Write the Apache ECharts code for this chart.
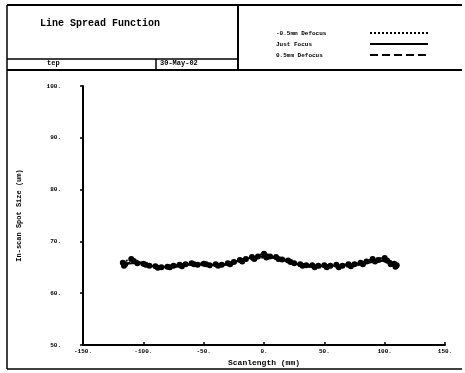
<!DOCTYPE html>
<html><head><meta charset="utf-8">
<script src="https://cdn.jsdelivr.net/npm/echarts@6/dist/echarts.min.js"></script>
<style>html,body{margin:0;padding:0;background:#fff}#c{width:465px;height:373px}</style>
</head><body><div id="c"></div>
<script>
var seriesNames = ['-0.5mm Defocus', 'Just Focus', '0.5mm Defocus'];
var xTickLabels = ['-150.', '-100.', '-50.', '0.', '50.', '100.', '150.'];
var yTickLabels = ['50.', '60.', '70.', '80.', '90.', '100.'];

var minusX = [-117,-110,-100,-90,-80,-70,-60,-50,-40,-30,-20,-10,0,10,20,30,40,50,60,70,80,90,100,108];
var minusY = [65.9,66.6,65.7,65.2,65.1,65.5,65.8,65.7,65.6,65.8,66.4,67.0,67.6,67.0,66.3,65.6,65.4,65.4,65.5,65.6,65.9,66.6,66.8,65.7];
var justX = [-115,-105,-95,-85,-75,-65,-55,-45,-35,-25,-15,-5,5,15,25,35,45,55,65,75,85,95,105,109];
var justY = [65.6,65.8,65.3,65.0,65.3,65.6,65.5,65.4,65.5,66.0,66.6,67.1,67.1,66.5,65.8,65.4,65.3,65.3,65.3,65.6,66.1,66.4,65.6,65.1];
var plusX = [-116,-108,-98,-88,-78,-68,-58,-48,-38,-28,-18,-8,2,12,22,32,42,52,62,72,82,92,102,110];
var plusY = [65.3,66.2,65.5,64.9,65.0,65.2,65.6,65.6,65.3,65.6,66.1,66.6,66.9,66.6,66.0,65.3,65.0,65.0,65.0,65.2,65.6,66.1,66.3,65.4];

function zip(xs, ys){ return xs.map(function(x,i){ return [x, ys[i]]; }); }

var FONT = 'Liberation Mono';
var chart = echarts.init(document.getElementById('c'), null, {renderer:'canvas'});
function ln(x1,y1,x2,y2,w){ return {type:'line', shape:{x1:x1,y1:y1,x2:x2,y2:y2}, style:{stroke:'#000', lineWidth:w||1.5}, silent:true}; }
var mkSeries = function(name, data, type){
  return {name:name, type:'line', data:data, smooth:0.3, symbol:'circle', symbolSize:6,
    itemStyle:{color:'#000'}, lineStyle:{color:'#000', width:1.8, type:type}};
};
chart.setOption({
  animation:false,
  backgroundColor:'#fff',
  grid:{left:83, right:20, top:86, bottom:28},
  xAxis:{type:'value', min:-150, max:150, interval:50,
    name:'Scanlength (mm)', nameLocation:'middle', nameGap:9,
    nameTextStyle:{fontFamily:FONT, fontSize:8, fontWeight:'bold', color:'#000'},
    axisLine:{onZero:false, lineStyle:{color:'#000', width:2}},
    axisTick:{inside:true, length:3, lineStyle:{color:'#000', width:1.5}},
    axisLabel:{margin:3, fontFamily:FONT, fontSize:6, fontWeight:'bold', color:'#000',
      formatter:function(v){ return xTickLabels[Math.round((v+150)/50)]; }},
    splitLine:{show:false}},
  yAxis:{type:'value', min:50, max:100, interval:10,
    name:'In-scan Spot Size (um)', nameLocation:'middle', nameGap:60, nameRotate:90,
    nameTextStyle:{fontFamily:FONT, fontSize:7, fontWeight:'bold', color:'#000'},
    axisLine:{show:true, onZero:false, lineStyle:{color:'#000', width:2}},
    axisTick:{show:true, length:3, lineStyle:{color:'#000', width:1.5}},
    axisLabel:{margin:22, fontFamily:FONT, fontSize:6, fontWeight:'bold', color:'#000',
      formatter:function(v){ return yTickLabels[Math.round((v-50)/10)]; }},
    splitLine:{show:false}},
  legend:{orient:'vertical', left:271, top:25, itemGap:5, itemWidth:58, itemHeight:6, align:'right',
    data:seriesNames,
    itemStyle:{opacity:0},
    formatter:function(n){ return '{a|' + n + '}'; },
    textStyle:{fontFamily:FONT, fontSize:6, fontWeight:'bold', color:'#000',
      rich:{a:{width:89, align:'left', fontFamily:FONT, fontSize:6, fontWeight:'bold', color:'#000'}}}},
  graphic:[
    ln(7,5,462,5,2), ln(7,5,7,369,1.5), ln(238,5,238,70,2), ln(7,59,238,59,1.5),
    ln(7,70,462,70,2), ln(156,59,156,70,1.5), ln(7,369,462,369,1.5),
    {type:'text', left:40, top:18, silent:true, style:{text:'Line Spread Function', font:'bold 10px "Liberation Mono"', fill:'#000'}},
    {type:'text', left:47, top:60, silent:true, style:{text:'tep', font:'bold 7px "Liberation Mono"', fill:'#000'}},
    {type:'text', left:160, top:60, silent:true, style:{text:'30-May-02', font:'bold 7px "Liberation Mono"', fill:'#000'}}
  ],
  series:[
    mkSeries(seriesNames[0], zip(minusX, minusY), 'dotted'),
    mkSeries(seriesNames[1], zip(justX, justY), 'solid'),
    mkSeries(seriesNames[2], zip(plusX, plusY), 'dashed')
  ]
});
</script></body></html>
